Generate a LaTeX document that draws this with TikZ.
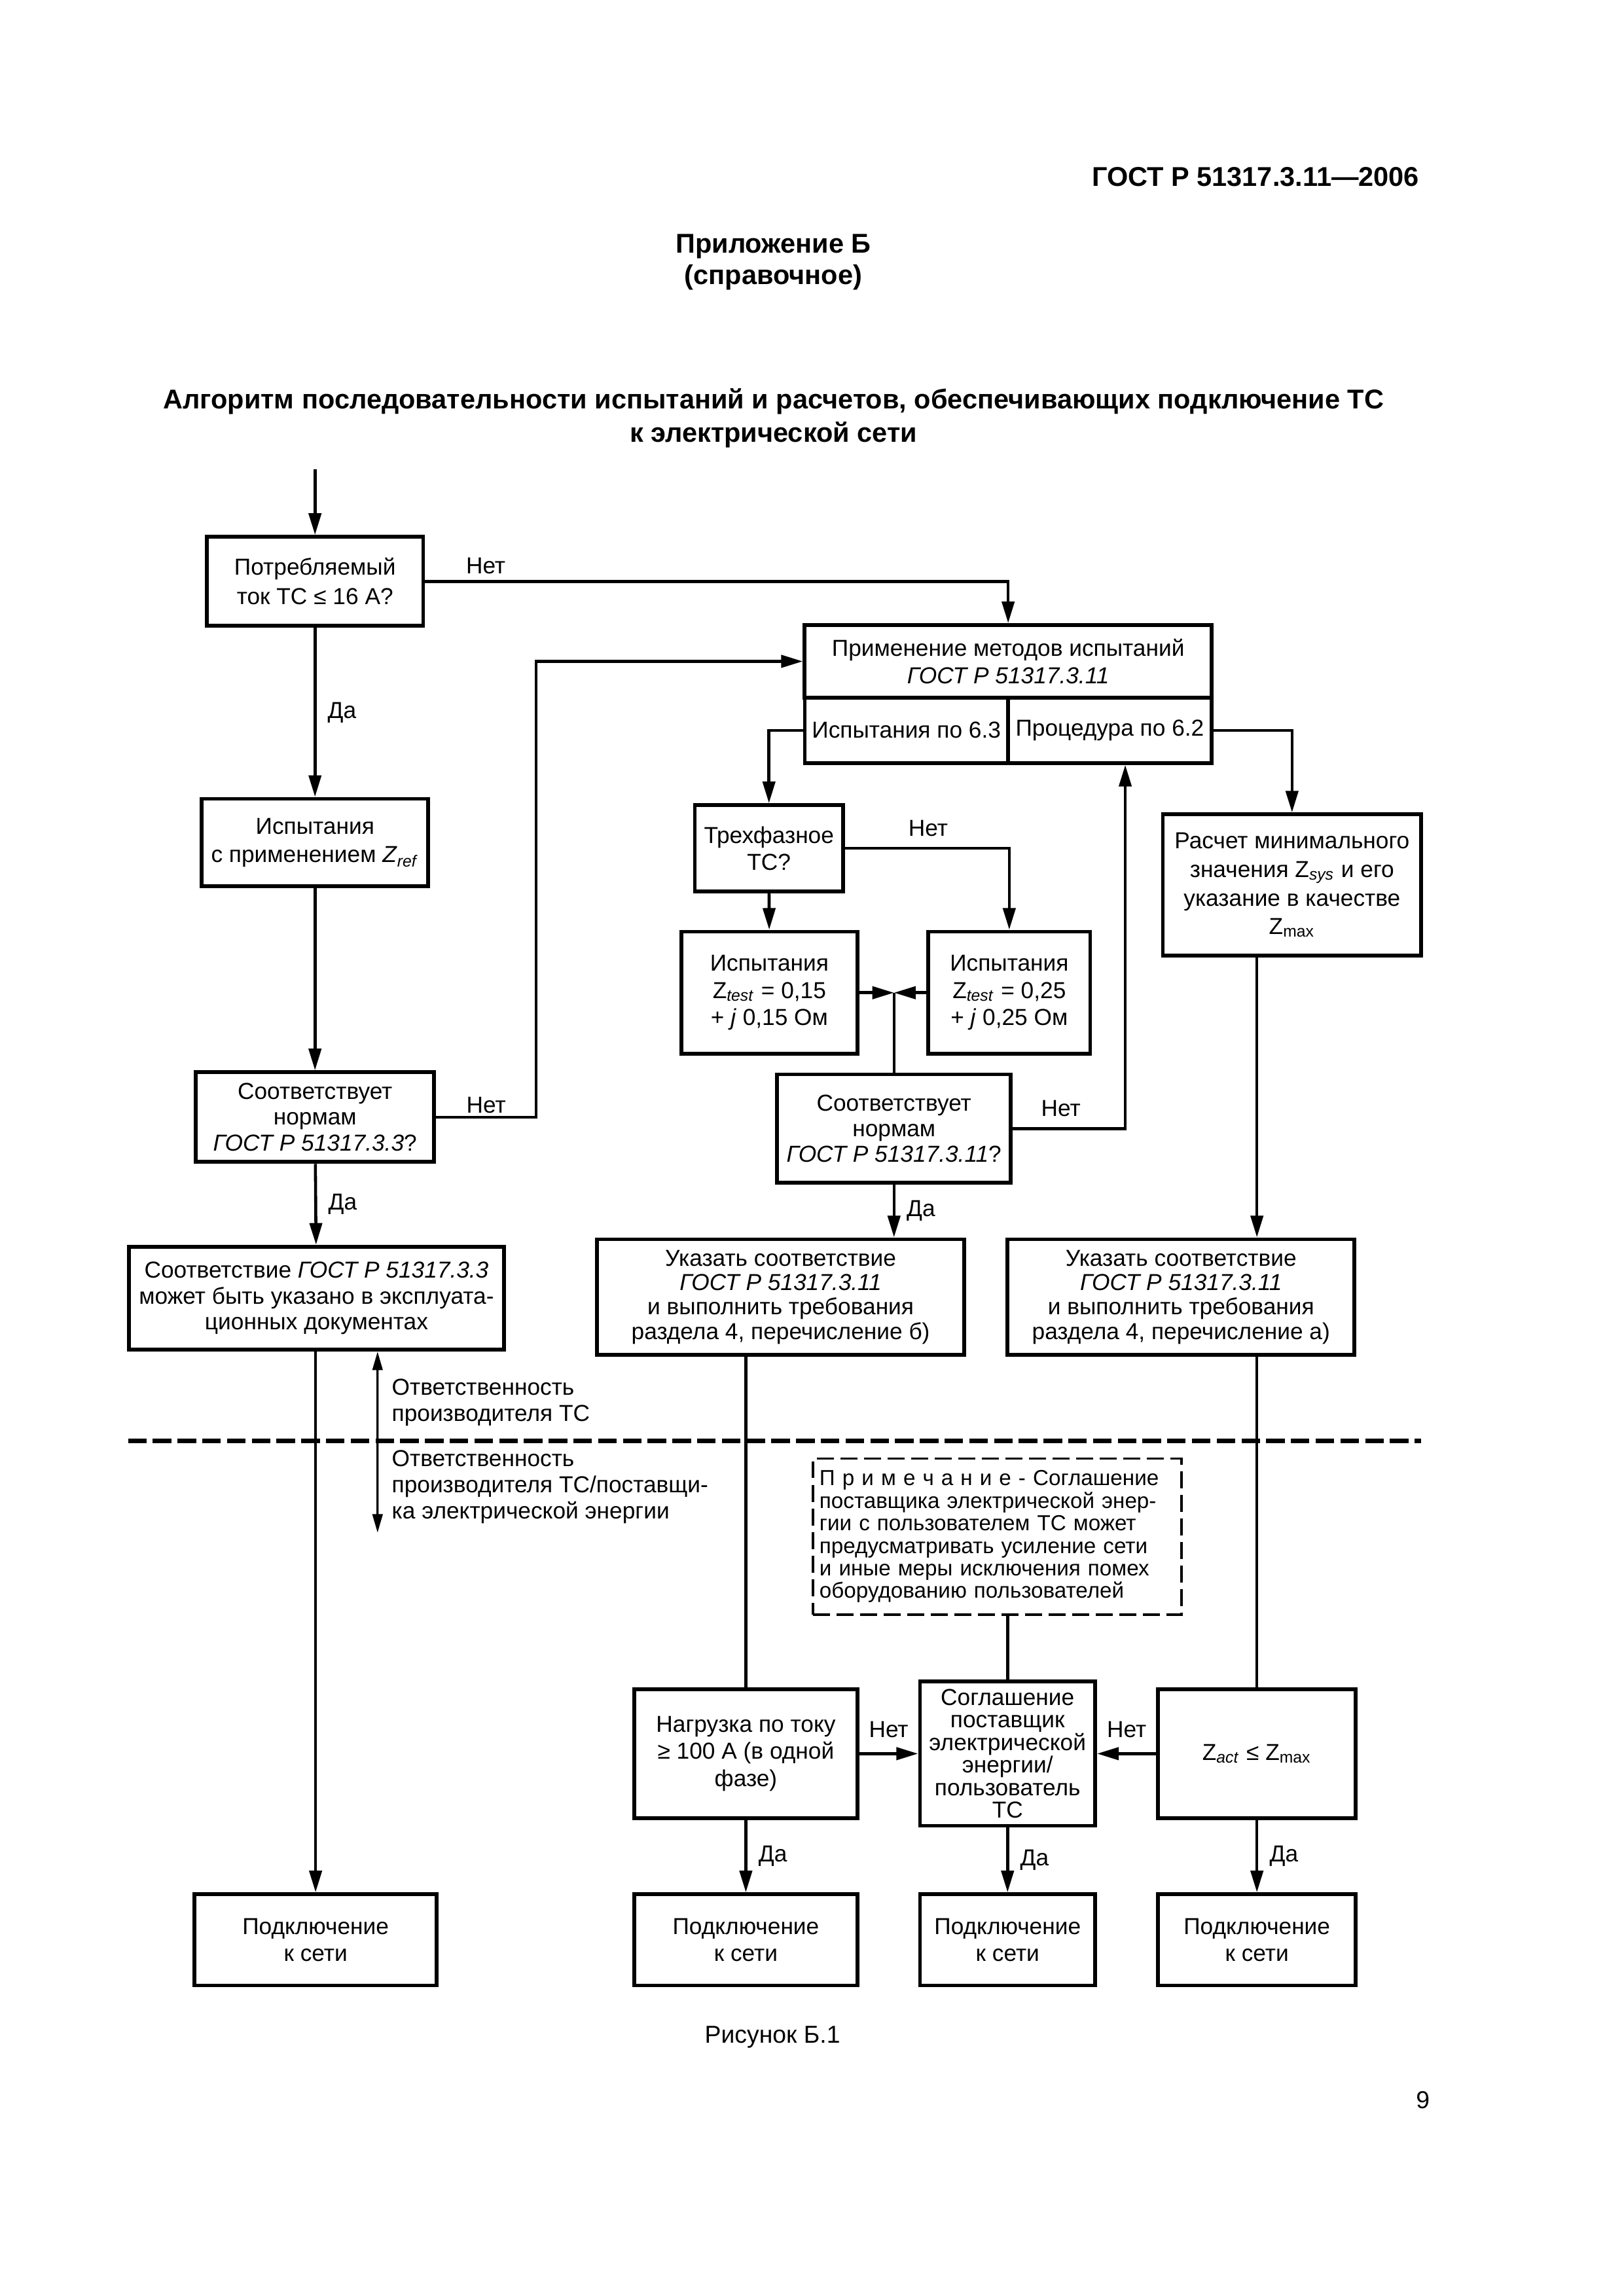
\documentclass[tikz,border=0pt]{standalone}
\usepackage{fontspec}
\setmainfont{Liberation Sans}
\usetikzlibrary{arrows.meta,positioning}

\begin{document}
\begin{tikzpicture}[x=0.19039mm,y=-0.19039mm,
            box/.style={draw,line width=1.4pt,align=center,inner sep=1pt,font=\fontsize{8.5}{10}\selectfont},
            notebox/.style={draw,line width=0.9pt,dash pattern=on 2.2mm off 0.85mm,align=left,inner sep=1.5pt,font=\fontsize{8}{8.3}\selectfont},
            lbl/.style={inner sep=1pt,font=\fontsize{8.5}{10}\selectfont},
            conn/.style={line width=1.1pt},
            arr/.style={conn,-{Triangle[length=2.8mm,width=1.6mm]}},
            hdr/.style={align=center,font=\bfseries\fontsize{10}{12}\selectfont}]

            \useasboundingbox (0,0) rectangle (1103,1560);

            \node[hdr,anchor=east] (gost) at (970.6,120) {ГОСТ Р 51317.3.11—2006};
            \node[hdr,font=\bfseries\fontsize{10}{11.6}\selectfont] (annex) at (525.4,178.2) {Приложение Б\\(справочное)};
            \node[hdr,font=\bfseries\fontsize{10}{12.4}\selectfont] (title) at (525.5,284.2) {Алгоритм последовательности испытаний и расчетов, обеспечивающих подключение ТС\\к электрической сети};

            \coordinate (entry) at (214,319);
            \node[box,font=\fontsize{8.5}{10.7}\selectfont,minimum width=27.99mm,minimum height=11.52mm] (q16) at (214,395) {Потребляемый\\ток ТС ≤ 16 А?};
            \node[box,font=\fontsize{8.5}{10.5}\selectfont,minimum width=29.32mm,minimum height=11.33mm] (zref) at (214,572.5) {Испытания\\с применением \textit{Z}\textsubscript{\textit{ref}}};
            \node[box,font=\fontsize{8.5}{9.5}\selectfont,minimum width=30.84mm,minimum height=11.61mm] (norm33) at (214,759) {Соответствует\\нормам\\\textit{ГОСТ Р 51317.3.3}?};
            \node[box,font=\fontsize{8.5}{9.5}\selectfont,minimum width=48.55mm,minimum height=13.33mm] (comp33) at (215,882) {Соответствие \textit{ГОСТ Р 51317.3.3}\\может быть указано в эксплуата-\\ционных документах};

            \node[box,minimum width=52.62mm,minimum height=9.39mm] (apply) at (684.9,449.35) {Применение методов испытаний\\\textit{ГОСТ Р 51317.3.11}};
            \node[box,inner sep=0.5pt,minimum width=26.29mm,minimum height=8.45mm] (test63) at (615.75,496.2) {Испытания по 6.3};
            \node[box,inner sep=0.5pt,minimum width=26.33mm,minimum height=8.45mm] (proc62) at (753.95,496.2) {Процедура по 6.2};

            \node[box,minimum width=19.19mm,minimum height=11.19mm] (tri) at (522.4,576.4) {Трехфазное\\ТС?};
            \node[box,minimum width=22.77mm,minimum height=15.8mm] (z15) at (522.7,674.5) {Испытания\\Z\textsubscript{\textit{test}} = 0,15\\+ \textit{j} 0,15 Ом};
            \node[box,minimum width=20.94mm,minimum height=15.8mm] (z25) at (685.65,674.5) {Испытания\\Z\textsubscript{\textit{test}} = 0,25\\+ \textit{j} 0,25 Ом};
            \coordinate (join) at (607.35,674.5);
            \node[box,font=\fontsize{8.5}{9.5}\selectfont,minimum width=30.21mm,minimum height=14.01mm] (norm311) at (607.35,766.8) {Соответствует\\нормам\\\textit{ГОСТ Р 51317.3.11}?};
            \node[box,font=\fontsize{8.5}{10.5}\selectfont,minimum width=33.41mm,minimum height=18.28mm] (calc) at (877.75,601.35) {Расчет минимального\\значения Z\textsubscript{\textit{sys}} и его\\указание в качестве\\Z\textsubscript{max}};

            \node[box,font=\fontsize{8.5}{9}\selectfont,minimum width=47.5mm,minimum height=14.96mm] (markB) at (530.35,881.3) {Указать соответствие\\\textit{ГОСТ Р 51317.3.11}\\и выполнить требования\\раздела 4, перечисление б)};
            \node[box,font=\fontsize{8.5}{9}\selectfont,minimum width=44.87mm,minimum height=14.96mm] (markA) at (802.35,881.3) {Указать соответствие\\\textit{ГОСТ Р 51317.3.11}\\и выполнить требования\\раздела 4, перечисление а)};

            \node[notebox,text width=46mm,minimum width=47.69mm,minimum height=20.18mm] (note) at (677.55,1044) {П р и м е ч а н и е - Соглашение\\поставщика электрической энер-\\гии с пользователем ТС может\\предусматривать усиление сети\\и иные меры исключения помех\\оборудованию пользователей};

            \node[box,minimum width=28.84mm,minimum height=16.68mm] (load) at (506.7,1191.5) {Нагрузка по току\\≥ 100 А (в одной\\фазе)};
            \node[box,font=\fontsize{8.5}{8.3}\selectfont,minimum width=22.66mm,minimum height=18.66mm] (agree) at (684.5,1191.5) {Соглашение\\поставщик\\электрической\\энергии/\\пользователь\\ТС};
            \node[box,minimum width=25.57mm,minimum height=16.68mm] (zact) at (853.9,1191.5) {Z\textsubscript{\textit{act}} ≤ Z\textsubscript{max}};

            \node[box,minimum width=31.32mm,minimum height=11.8mm] (conn1) at (214.4,1318) {Подключение\\к сети};
            \node[box,minimum width=28.84mm,minimum height=11.8mm] (connB) at (506.7,1318) {Подключение\\к сети};
            \node[box,minimum width=22.66mm,minimum height=11.8mm] (connC) at (684.5,1318) {Подключение\\к сети};
            \node[box,minimum width=25.57mm,minimum height=11.8mm] (connD) at (853.9,1318) {Подключение\\к сети};

            \node[lbl,align=left,anchor=west,font=\fontsize{8.5}{9.6}\selectfont] (resp1) at (264,953) {Ответственность\\производителя ТС};
            \node[lbl,align=left,anchor=west,font=\fontsize{8.5}{9.6}\selectfont] (resp2) at (264,1010.3) {Ответственность\\производителя ТС/поставщи-\\ка электрической энергии};
            \coordinate (respend) at (256.5,1041.4);
            \coordinate (divL) at (87,979);
            \coordinate (divR) at (965.4,979);

            \node[font=\fontsize{9}{11}\selectfont] (caption) at (524.8,1384) {Рисунок Б.1};
            \node[font=\fontsize{9}{11}\selectfont] (pagenum) at (966.7,1427) {9};

            \path[arr]
            (entry) edge (q16)
            (q16) edge node[lbl,right,xshift=1.1mm] {Да} (zref)
            (zref) edge (norm33)
            (norm33) edge node[lbl,right,xshift=1.1mm] {Да} (comp33)
            (comp33.south -| conn1) edge (conn1)
            (tri) edge (z15)
            (z15) edge (join)
            (z25) edge (join)
            (norm311.south) edge node[lbl,right,xshift=1.1mm] {Да} (norm311.south |- markB.north)
            (zact |- calc.south) edge (zact |- markA.north)
            (load) edge node[lbl,above,yshift=1.5mm] {Нет} (agree)
            (zact) edge node[lbl,above,yshift=1.5mm] {Нет} (agree)
            (load) edge node[lbl,right,xshift=1.1mm] {Да} (connB)
            (agree) edge node[lbl,right,xshift=1.1mm] {Да} (connC)
            (zact) edge node[lbl,right,xshift=1.1mm] {Да} (connD)
            ;

            \draw[arr] (q16.east) -| node[lbl,above,pos=0.052,yshift=0.4mm] {Нет} (apply.north);
            \draw[arr] (norm33.east) -- node[lbl,above] {Нет} ++(68,0) |- (apply.west);
            \draw[arr] (test63.west) -| (tri.north);
            \draw[arr] (proc62.east) -| (calc.north);
            \draw[arr] (tri.east) -| node[lbl,above,pos=0.253,yshift=1mm] {Нет} (z25.north);
            \draw[arr] (norm311.east) -| node[lbl,above,pos=0.214,yshift=1mm] {Нет} ([xshift=2mm]proc62.south);
            \draw[conn] (join) -- (norm311.north);
            \draw[conn] (load |- markB.south) -- (load.north);
            \draw[conn] (zact |- markA.south) -- (zact.north);
            \draw[conn] (agree |- note.south) -- (agree.north);

            \draw[conn,line width=0.8pt,{Triangle[length=2.4mm,width=1.3mm]}-{Triangle[length=2.4mm,width=1.3mm]}] ([xshift=7.9mm]comp33.south) -- (respend);
            \draw[line width=1.6pt,dash pattern=on 2.4mm off 0.8mm] (divL) -- (divR);
    \end{tikzpicture}
\end{document}
